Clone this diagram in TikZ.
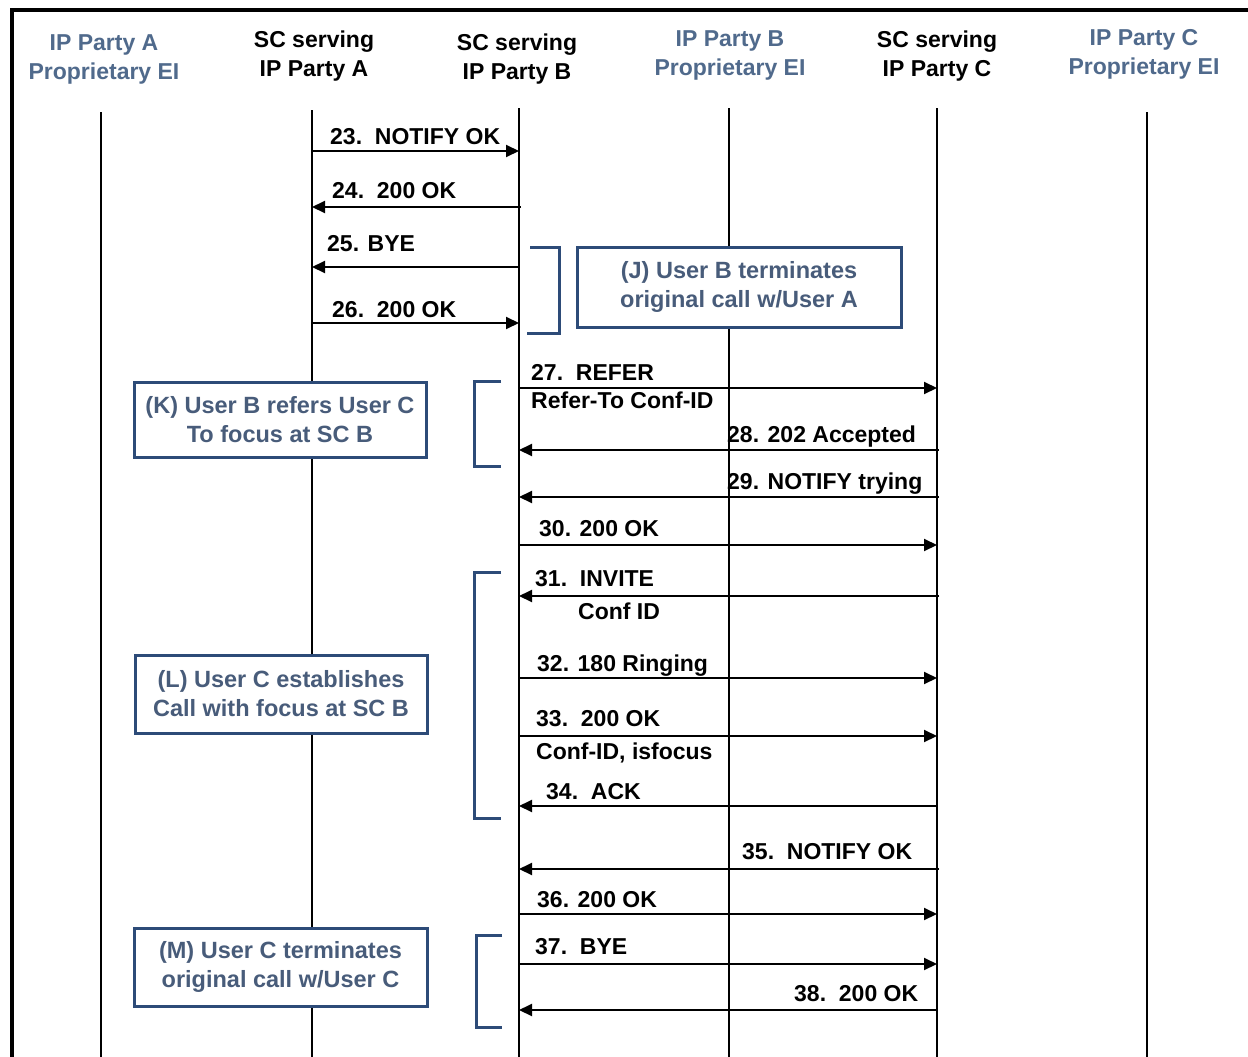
\documentclass[tikz,border=0pt]{standalone}
\usepackage{fontspec}
\setmainfont{Liberation Sans}
\usetikzlibrary{arrows.meta}
\definecolor{hdrblue}{RGB}{80,106,140}
\definecolor{boxline}{RGB}{45,75,120}
\definecolor{boxtext}{RGB}{72,92,122}
\begin{document}
\begin{tikzpicture}[x=1pt,y=-1pt,
 lifeline/.style={line width=2pt},
 msg/.style={line width=2pt,-{Triangle[length=13pt,width=12pt]}},
 lbl/.style={font=\fontsize{23}{24}\selectfont\bfseries, inner sep=0pt, anchor=base west},
 hdr/.style={font=\fontsize{23}{29}\selectfont\bfseries, align=center, inner sep=0pt},
 hdrei/.style={hdr, text=hdrblue},
 notebox/.style={draw=boxline, line width=3pt, fill=white, text=boxtext, font=\fontsize{23.5}{29}\selectfont\bfseries, align=center, inner sep=0pt},
 brk/.style={draw=boxline, line width=3pt},
 frame/.style={line width=3.5pt}]
\useasboundingbox (0,0) rectangle (1248,1057);
\fill[white] (0,0) rectangle (1248,1057);
% frame
\coordinate (f1) at (12,1057);
\coordinate (f2) at (12,10);
\coordinate (f3) at (1248,10);
\draw[frame] (f1) -- (f2) -- (f3);
% headers
\node[hdrei] (hA) at (104,59) {IP Party A\\Proprietary EI};
\node[hdr] (hSA) at (314,56) {SC serving\\IP Party A};
\node[hdr] (hSB) at (517,59) {SC serving\\IP Party B};
\node[hdrei] (hB) at (730,55) {IP Party B\\Proprietary EI};
\node[hdr] (hSC) at (937,56) {SC serving\\IP Party C};
\node[hdrei] (hC) at (1144,54) {IP Party C\\Proprietary EI};
% lifelines
\coordinate (LA) at (101,112);  \coordinate (LAe) at (101,1057);
\coordinate (SA) at (312,110);  \coordinate (SAe) at (312,1057);
\coordinate (SB) at (519,108);  \coordinate (SBe) at (519,1057);
\coordinate (LB) at (729,108);  \coordinate (LBe) at (729,1057);
\coordinate (SC) at (937,108);  \coordinate (SCe) at (937,1057);
\coordinate (LC) at (1147,112); \coordinate (LCe) at (1147,1057);
\foreach \a/\b in {LA/LAe,SA/SAe,SB/SBe,LB/LBe,SC/SCe,LC/LCe}
  \draw[lifeline] (\a) -- (\b);
% messages
\draw[msg] (SA |- 0,151) -- (SB |- 0,151);
\node[lbl] (t23) at (330,144) {23.\ \ NOTIFY OK};
\draw[msg] (521,207) -- (SA |- 0,207);
\node[lbl] (t24) at (332,198) {24.\ \ 200 OK};
\draw[msg] (SB |- 0,267) -- (SA |- 0,267);
\node[lbl] (t25) at (327,251) {25. BYE};
\draw[msg] (SA |- 0,323) -- (SB |- 0,323);
\node[lbl] (t26) at (332,317) {26.\ \ 200 OK};
\draw[msg] (SB |- 0,388) -- (SC |- 0,388);
\node[lbl] (t27) at (531,380) {27.\ \ REFER};
\node[lbl] (t27b) at (531,408) {Refer-To Conf-ID};
\draw[msg] (939,450) -- (SB |- 0,450);
\node[lbl] (t28) at (727,442) {28. 202 Accepted};
\draw[msg] (939,497) -- (SB |- 0,497);
\node[lbl] (t29) at (727,489) {29. NOTIFY trying};
\draw[msg] (SB |- 0,545) -- (SC |- 0,545);
\node[lbl] (t30) at (539,536) {30. 200 OK};
\draw[msg] (939,596) -- (SB |- 0,596);
\node[lbl] (t31) at (535,586) {31.\ \ INVITE};
\node[lbl] (t31b) at (578,619) {Conf ID};
\draw[msg] (SB |- 0,678) -- (SC |- 0,678);
\node[lbl] (t32) at (537,671) {32. 180 Ringing};
\draw[msg] (SB |- 0,736) -- (SC |- 0,736);
\node[lbl] (t33) at (536,726) {33.\ \ 200 OK};
\node[lbl] (t33b) at (536,759) {Conf-ID, isfocus};
\draw[msg] (SC |- 0,806) -- (SB |- 0,806);
\node[lbl] (t34) at (546,799) {34.\ \ ACK};
\draw[msg] (939,869) -- (SB |- 0,869);
\node[lbl] (t35) at (742,859) {35.\ \ NOTIFY OK};
\draw[msg] (SB |- 0,914) -- (SC |- 0,914);
\node[lbl] (t36) at (537,907) {36. 200 OK};
\draw[msg] (SB |- 0,964) -- (SC |- 0,964);
\node[lbl] (t37) at (535,954) {37.\ \ BYE};
\draw[msg] (SC |- 0,1010) -- (SB |- 0,1010);
\node[lbl] (t38) at (794,1001) {38.\ \ 200 OK};
% brackets
\draw[brk] (530,247) -- (559,247) -- (559,333) -- (527,333);
\draw[brk] (501,381) -- (474,381) -- (474,466) -- (501,466);
\draw[brk] (501,572) -- (474,572) -- (474,818) -- (501,818);
\draw[brk] (502,935) -- (476,935) -- (476,1027) -- (502,1027);
% note boxes
\node[notebox, minimum width=324pt, minimum height=80pt] (bJ) at (739,287) {(J) User B terminates\\original call w/User A};
\node[notebox, minimum width=292pt, minimum height=75pt] (bK) at (280,419.5) {(K) User B refers User C\\To focus at SC B};
\node[notebox, minimum width=292pt, minimum height=78pt] (bL) at (281,694) {(L) User C establishes\\Call with focus at SC B};
\node[notebox, minimum width=293pt, minimum height=78pt] (bM) at (280.5,967) {(M) User C terminates\\original call w/User C};
\end{tikzpicture}
\end{document}
